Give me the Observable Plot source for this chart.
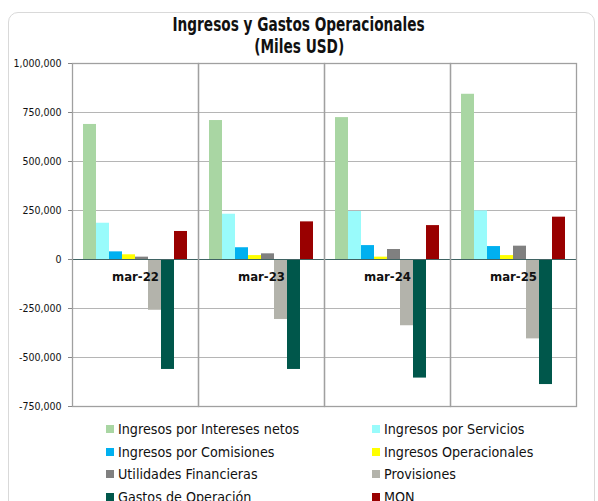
<!DOCTYPE html>
<html>
<head>
<meta charset="utf-8">
<script src="https://cdn.jsdelivr.net/npm/d3@7"></script>
<script src="https://cdn.jsdelivr.net/npm/@observablehq/plot@0.6"></script>
<style>
  html, body { margin: 0; padding: 0; background: #fff; }
  #wrap { position: relative; width: 598px; height: 501px; overflow: hidden; font-family: "DejaVu Sans Condensed", "DejaVu Sans", sans-serif; }
  #border { position: absolute; left: 8px; top: 12px; width: 587px; height: 520px; border: 1px solid #d9d9d9; border-radius: 10px; box-sizing: border-box; }
  #title { position: absolute; left: 0; width: 598px; top: 13px; text-align: center; font-weight: bold; font-size: 19px; line-height: 22px; color: #111; }
  #title span { display: inline-block; transform: scaleX(0.8); transform-origin: center; }
  #chart { position: absolute; left: 0; top: 0; }
  #legend { position: absolute; left: 106px; top: 418px; width: 480px; display: grid; grid-template-columns: 266px 200px; row-gap: 0; font-size: 14.2px; color: #111; }
  .item { display: flex; align-items: center; height: 22.5px; white-space: nowrap; }
  .sw { width: 8px; height: 8px; margin-right: 4px; flex: none; }
</style>
</head>
<body>
<div id="wrap">
  <div id="border"></div>
  <div id="chart"></div>
  <div id="title"><span>Ingresos y Gastos Operacionales</span><br><span>(Miles USD)</span></div>
  <div id="legend"></div>
</div>
<script>
const categories = ["mar-22", "mar-23", "mar-24", "mar-25"];
const series = [
  "Ingresos por Intereses netos",
  "Ingresos por Servicios",
  "Ingresos por Comisiones",
  "Ingresos Operacionales",
  "Utilidades Financieras",
  "Provisiones",
  "Gastos de Operación",
  "MON"
];
const colors = ["#a9d6a3", "#99fbfb", "#00b0f0", "#ffff00", "#808080", "#b3b3ab", "#00574b", "#990000"];

const interesesNetos = [689000, 709000, 724000, 843000];
const servicios      = [185000, 231000, 245000, 248000];
const comisiones     = [39000, 60000, 71000, 66000];
const operacionales  = [24000, 20000, 12000, 20000];
const utilidades     = [12000, 29000, 51000, 68000];
const provisiones    = [-259000, -306000, -338000, -405000];
const gastos         = [-561000, -561000, -605000, -638000];
const mon            = [143000, 192000, 173000, 216000];

const yTicks = [-750000, -500000, -250000, 0, 250000, 500000, 750000, 1000000];

const seriesValues = [interesesNetos, servicios, comisiones, operacionales, utilidades, provisiones, gastos, mon];
const data = [];
categories.forEach((c, i) => {
  series.forEach((s, j) => data.push({cat: c, series: s, value: seriesValues[j][i]}));
});

const fmt = d => (d < 0 ? "-" : "") + d3.format(",")(Math.abs(d));

const chart = Plot.plot({
  width: 598,
  height: 420,
  marginTop: 63,
  marginBottom: 14,
  marginLeft: 71,
  marginRight: 21,
  style: {fontFamily: "'DejaVu Sans Condensed', 'DejaVu Sans', sans-serif", fontSize: "10.5px", color: "#111", background: "transparent"},
  fx: {domain: categories, padding: 0, axis: null},
  x: {domain: series, paddingInner: 0, paddingOuter: 0.75, axis: null},
  y: {domain: [-750000, 1000000], ticks: yTicks, tickFormat: fmt, tickSize: 4, tickPadding: 7, label: null},
  color: {domain: series, range: colors},
  marks: [
    Plot.ruleY(yTicks, {stroke: "#b5b5b5", strokeWidth: 1}),
    Plot.barY(data, {fx: "cat", x: "series", y: "value", fill: "series", inset: 0}),
    Plot.ruleY([0], {stroke: "#3f6363", strokeWidth: 1}),
    Plot.frame({stroke: "#a0a0a0", strokeWidth: 1.3}),
    Plot.text(categories, {fx: d => d, text: d => d, y: 0, dy: 17, fontWeight: "bold", fontSize: 13, fill: "#111"}),
    Plot.axisY({ticks: yTicks, tickFormat: fmt, tickSize: 4, tickPadding: 7, stroke: "#888", label: null})
  ]
});
document.getElementById("chart").appendChild(chart);

const legend = document.getElementById("legend");
series.forEach((s, j) => {
  const item = document.createElement("div");
  item.className = "item";
  const sw = document.createElement("span");
  sw.className = "sw";
  sw.style.background = colors[j];
  item.appendChild(sw);
  item.appendChild(document.createTextNode(s));
  legend.appendChild(item);
});
</script>
</body>
</html>
